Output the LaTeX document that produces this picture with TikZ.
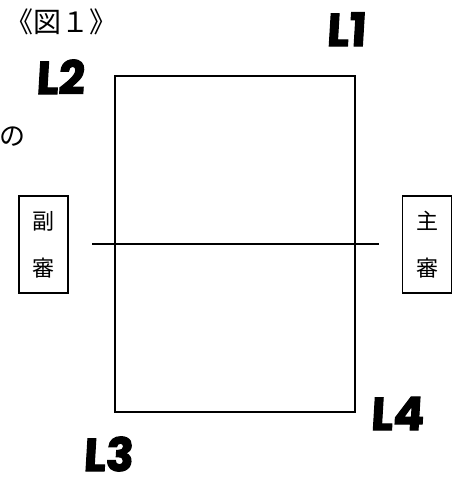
\documentclass[tikz,border=0pt]{standalone}
\usepackage{fontspec}
\newfontfamily\jpfont{Noto Sans CJK JP}
\newfontfamily\lblfont{Poppins}[BoldFeatures={FakeBold=2.5}]
\usetikzlibrary{positioning}

\begin{document}
\begin{tikzpicture}[x=1pt, y=-1pt, line width=1.3pt,
    judge/.style={draw, minimum width=49pt, minimum height=97pt, inner sep=0pt,
        align=center, font=\jpfont\fontsize{22}{47}\selectfont},
    corner/.style={font=\lblfont\bfseries\fontsize{46}{46}\selectfont, inner sep=0pt,
        text height=32pt, text depth=0pt}]
    \useasboundingbox (0,0) rectangle (457,477);

    % title and cut-off text
    \node[font=\jpfont\fontsize{28}{28}\selectfont, anchor=west, inner sep=0pt] (title) at (5, 22) {《図１》};
    \node[font=\jpfont\fontsize{26}{26}\selectfont, anchor=west, inner sep=0pt] (no) at (-1, 137) {の};

    % court
    \draw (115, 76) rectangle (355, 412);
    \draw (92, 244) -- (379, 244);

    % judges
    \node[judge] (sub) at (43.5, 244.5) {副\\審};
    \node[judge] (main) at (427, 244.5) {主\\審};

    % corner labels
    \node[corner, xslant=0.06] (L1) at (347, 30) {L1};
    \node[corner, xslant=0.06] (L2) at (61, 78) {L2};
    \node[corner, xslant=0.06] (L3) at (109, 455) {L3};
    \node[corner, xslant=0.06] (L4) at (398, 414) {L4};
\end{tikzpicture}
\end{document}
